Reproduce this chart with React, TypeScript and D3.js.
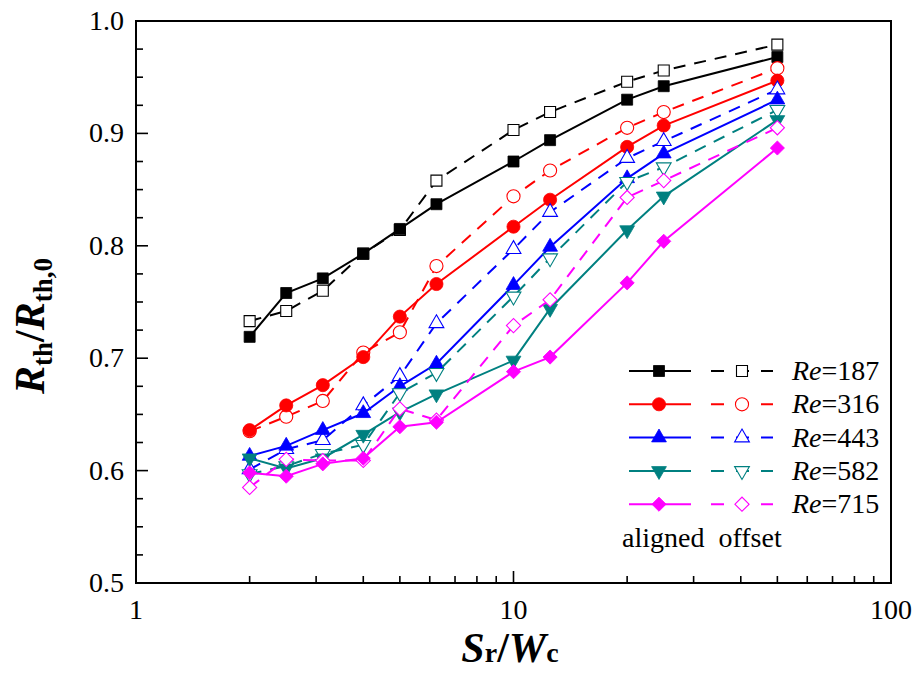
import * as d3 from "d3";
import { useEffect, useRef } from "react";

// Sr/Wc values shared by all series
const ratios = [2, 2.5, 3.125, 4, 5, 6.25, 10, 12.5, 20, 25, 50];

const reynolds = ["187", "316", "443", "582", "715"];
const colors = ["#000000", "#ff0000", "#0000ff", "#008080", "#ff00ff"];
const shapes = ["square", "circle", "triangle", "triangleDown", "diamond"];

// Rth/Rth,0 for the aligned arrangement (filled markers, solid lines)
const aligned187 = [0.719, 0.758, 0.771, 0.793, 0.815, 0.837, 0.875, 0.894, 0.93, 0.942, 0.968];
const aligned316 = [0.636, 0.658, 0.676, 0.701, 0.737, 0.766, 0.817, 0.841, 0.888, 0.907, 0.947];
const aligned443 = [0.613, 0.622, 0.636, 0.651, 0.675, 0.695, 0.765, 0.799, 0.86, 0.882, 0.93];
const aligned582 = [0.611, 0.602, 0.611, 0.632, 0.652, 0.668, 0.698, 0.744, 0.814, 0.844, 0.912];
const aligned715 = [0.598, 0.595, 0.606, 0.611, 0.639, 0.643, 0.688, 0.701, 0.767, 0.804, 0.887];

// Rth/Rth,0 for the offset arrangement (open markers, dashed lines)
const offset187 = [0.733, 0.742, 0.76, 0.793, 0.814, 0.858, 0.903, 0.919, 0.946, 0.956, 0.979];
const offset316 = [0.635, 0.648, 0.662, 0.705, 0.723, 0.782, 0.844, 0.867, 0.905, 0.919, 0.958];
const offset443 = [0.601, 0.619, 0.627, 0.658, 0.684, 0.731, 0.797, 0.83, 0.878, 0.893, 0.939];
const offset582 = [0.597, 0.604, 0.615, 0.623, 0.669, 0.687, 0.755, 0.789, 0.857, 0.87, 0.921];
const offset715 = [0.585, 0.61, 0.609, 0.609, 0.655, 0.645, 0.729, 0.752, 0.843, 0.858, 0.905];

const alignedAll = [aligned187, aligned316, aligned443, aligned582, aligned715];
const offsetAll = [offset187, offset316, offset443, offset582, offset715];

const yTicks = [0.5, 0.6, 0.7, 0.8, 0.9, 1.0];
const xTicks = [1, 10, 100];

const width = 917;
const height = 677;
const font =
  "'Liberation Serif', 'Times New Roman', Times, Tinos, 'Nimbus Roman', 'Noto Serif', 'DejaVu Serif', FreeSerif, serif";

function marker(g: any, shape: string, cx: number, cy: number, color: string, filled: boolean) {
  let type: any = d3.symbolSquare;
  let size = 121;
  let rot = 0;
  if (shape === "circle") { type = d3.symbolCircle; size = 135; }
  if (shape === "triangle") { type = d3.symbolTriangle; size = 95; }
  if (shape === "triangleDown") { type = d3.symbolTriangle; size = 95; rot = 180; }
  if (shape === "diamond") { type = d3.symbolSquare; size = 100; rot = 45; }
  g.append("path")
    .attr("d", d3.symbol().type(type).size(size)())
    .attr("transform", `translate(${cx},${cy}) rotate(${rot})`)
    .attr("fill", filled ? color : "#ffffff")
    .attr("stroke", color)
    .attr("stroke-width", filled ? 0.8 : 1.1);
}

function App() {
  const ref = useRef<SVGSVGElement>(null);

  useEffect(() => {
    const svg = d3.select(ref.current);
    svg.selectAll("*").remove();

    const left = 136, right = 891, top = 21, bottom = 583;

    const x = d3.scaleLog().domain([1, 100]).range([left, right]);
    const y = d3.scaleLinear().domain([0.5, 1.0]).range([bottom, top]);

    svg.append("rect").attr("width", width).attr("height", height).attr("fill", "#fff");

    // ticks (inward)
    const axes = svg.append("g").attr("stroke", "#000").attr("stroke-width", 1.6);
    d3.range(0, 21).forEach((i) => {
      const v = 0.5 + i * 0.025;
      const major = i % 4 === 0;
      axes.append("line")
        .attr("x1", left).attr("x2", left + (major ? 12 : 7))
        .attr("y1", y(v)).attr("y2", y(v));
    });
    [1, 10].forEach((dec) => {
      d3.range(1, 10).forEach((k) => {
        const v = dec * k;
        const major = k === 1;
        axes.append("line")
          .attr("x1", x(v)).attr("x2", x(v))
          .attr("y1", bottom).attr("y2", bottom - (major ? 12 : 7));
      });
    });

    svg.append("g")
      .style("font-family", font)
      .selectAll("text")
      .data(yTicks)
      .join("text")
      .attr("x", left - 12)
      .attr("y", (d) => y(d) + 9)
      .attr("text-anchor", "end")
      .attr("font-size", 28)
      .text((d) => d.toFixed(1));

    svg.append("g")
      .style("font-family", font)
      .selectAll("text")
      .data(xTicks)
      .join("text")
      .attr("x", (d) => x(d))
      .attr("y", bottom + 36)
      .attr("text-anchor", "middle")
      .attr("font-size", 28)
      .text((d) => String(d));

    const line = d3.line<number>()
      .x((_, i) => x(ratios[i]))
      .y((d) => y(d));

    const plot = svg.append("g");
    reynolds.forEach((_, s) => {
      const c = colors[s];
      plot.append("path")
        .attr("d", line(offsetAll[s]))
        .attr("fill", "none")
        .attr("stroke", c)
        .attr("stroke-width", 2)
        .attr("stroke-dasharray", "12 9");
      offsetAll[s].forEach((v, i) => marker(plot, shapes[s], x(ratios[i]), y(v), c, false));
      plot.append("path")
        .attr("d", line(alignedAll[s]))
        .attr("fill", "none")
        .attr("stroke", c)
        .attr("stroke-width", 2);
      alignedAll[s].forEach((v, i) => marker(plot, shapes[s], x(ratios[i]), y(v), c, true));
    });

    // frame
    svg.append("rect")
      .attr("x", left).attr("y", top)
      .attr("width", right - left).attr("height", bottom - top)
      .attr("fill", "none").attr("stroke", "#000").attr("stroke-width", 2);

    // legend
    const lg = svg.append("g").style("font-family", font);
    reynolds.forEach((re, s) => {
      const ry = 371 + s * 33.3;
      const c = colors[s];
      lg.append("line").attr("x1", 629).attr("x2", 691).attr("y1", ry).attr("y2", ry)
        .attr("stroke", c).attr("stroke-width", 2);
      marker(lg, shapes[s], 659, ry, c, true);
      lg.append("line").attr("x1", 711).attr("x2", 773).attr("y1", ry).attr("y2", ry)
        .attr("stroke", c).attr("stroke-width", 2).attr("stroke-dasharray", "13 12");
      marker(lg, shapes[s], 742, ry, c, false);
      const t = lg.append("text")
        .attr("x", 792).attr("y", ry + 9)
        .attr("font-size", 28);
      t.append("tspan").attr("font-style", "italic").text("Re");
      t.append("tspan").text("=" + re);
    });
    lg.append("text")
      .attr("x", 622).attr("y", 547)
      .attr("font-size", 28)
      .style("white-space", "pre")
      .text("aligned  offset");

    // x title
    const xt = svg.append("text")
      .attr("x", 510).attr("y", 662)
      .attr("text-anchor", "middle")
      .style("font-family", font)
      .attr("font-weight", "bold");
    xt.append("tspan").attr("font-style", "italic").attr("font-size", 42).text("S");
    xt.append("tspan").attr("font-size", 28).text("r");
    xt.append("tspan").attr("font-size", 42).text("/");
    xt.append("tspan").attr("font-style", "italic").attr("font-size", 42).text("W");
    xt.append("tspan").attr("font-size", 28).text("c");

    // y title
    const yt = svg.append("text")
      .attr("transform", "translate(44,326) rotate(-90)")
      .attr("text-anchor", "middle")
      .style("font-family", font)
      .attr("font-weight", "bold");
    yt.append("tspan").attr("font-style", "italic").attr("font-size", 42).text("R");
    yt.append("tspan").attr("font-size", 27).attr("dy", 8).text("th");
    yt.append("tspan").attr("font-size", 42).attr("dy", -8).text("/");
    yt.append("tspan").attr("font-style", "italic").attr("font-size", 42).text("R");
    yt.append("tspan").attr("font-size", 27).attr("dy", 8).text("th,0");
  }, []);

  return (
    <svg
      ref={ref}
      width={width}
      height={height}
      style={{ position: "absolute", left: 0, top: 0, display: "block" }}
    />
  );
}

export default App;
